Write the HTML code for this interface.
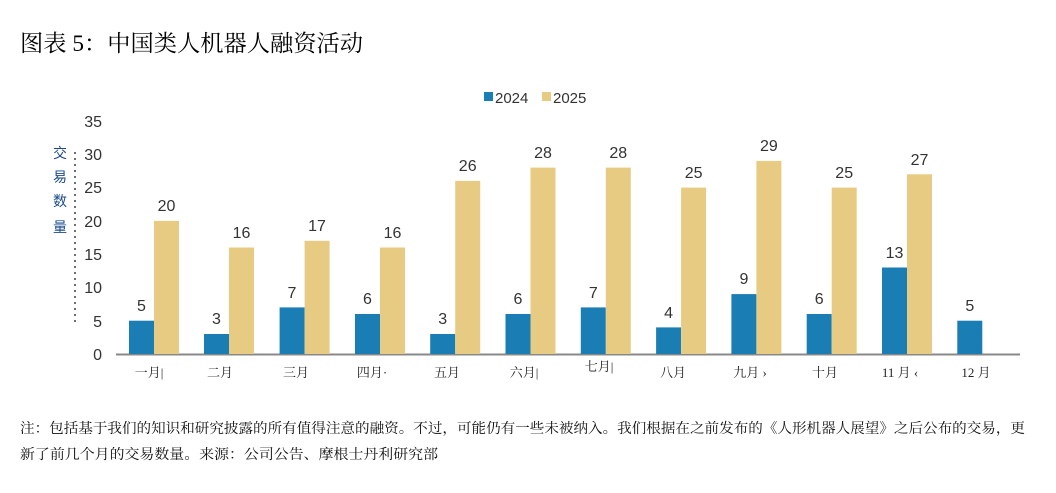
<!DOCTYPE html>
<html><head><meta charset="utf-8"><style>
body{margin:0;background:#fff;width:1056px;height:493px;overflow:hidden}
svg{display:block}
</style></head><body>
<svg width="1056" height="493" xmlns="http://www.w3.org/2000/svg">
<text x="20" y="51" font-family="'Liberation Serif','Noto Serif CJK SC',serif" font-size="23" fill="#000" textLength="343" lengthAdjust="spacingAndGlyphs">图表 5：中国类人机器人融资活动</text>
<rect x="484" y="92" width="9" height="9" fill="#1a7db3"/>
<text x="495" y="103" font-family="'Liberation Sans',sans-serif" font-size="15" fill="#333">2024</text>
<rect x="542" y="92" width="9" height="9" fill="#e8cb82"/>
<text x="553" y="103" font-family="'Liberation Sans',sans-serif" font-size="15" fill="#333">2025</text>
<g font-family="'Liberation Sans',sans-serif" font-size="16" fill="#333" text-anchor="end">
<text x="102" y="360">0</text><text x="102" y="327">5</text><text x="102" y="293">10</text><text x="102" y="260">15</text><text x="102" y="227">20</text><text x="102" y="193">25</text><text x="102" y="160">30</text><text x="102" y="127">35</text>
</g>
<g font-family="'Liberation Sans','Noto Sans CJK SC',sans-serif" font-size="14" fill="#1a4a8a" text-anchor="middle">
<text x="60" y="158">交</text><text x="60" y="182">易</text><text x="60" y="206">数</text><text x="60" y="232">量</text>
</g>
<line x1="75" y1="152" x2="75" y2="322" stroke="#222" stroke-width="1.3" stroke-dasharray="2,4"/>
<line x1="116" y1="354.5" x2="1020" y2="354.5" stroke="#888" stroke-width="2"/>
<g font-family="'Liberation Sans',sans-serif" font-size="16" fill="#333" text-anchor="middle">
<rect x="129" y="320.7" width="25" height="33.3" fill="#1a7db3"/><text x="141.5" y="311">5</text>
<rect x="154" y="220.9" width="25" height="133.1" fill="#e8cb82"/><text x="166.5" y="211">20</text>
<rect x="204" y="334" width="25" height="20" fill="#1a7db3"/><text x="216.5" y="324">3</text>
<rect x="229" y="247.5" width="25" height="106.5" fill="#e8cb82"/><text x="241.5" y="238">16</text>
<rect x="279.6" y="307.4" width="25" height="46.6" fill="#1a7db3"/><text x="292" y="298">7</text>
<rect x="304.6" y="240.8" width="25" height="113.2" fill="#e8cb82"/><text x="317" y="231">17</text>
<rect x="355" y="314" width="25" height="40" fill="#1a7db3"/><text x="367.5" y="304">6</text>
<rect x="380" y="247.5" width="25" height="106.5" fill="#e8cb82"/><text x="392.5" y="238">16</text>
<rect x="430.2" y="334" width="25" height="20" fill="#1a7db3"/><text x="442.7" y="324">3</text>
<rect x="455.2" y="180.9" width="25" height="173.1" fill="#e8cb82"/><text x="467.7" y="171">26</text>
<rect x="505.5" y="314" width="25" height="40" fill="#1a7db3"/><text x="518" y="304">6</text>
<rect x="530.5" y="167.6" width="25" height="186.4" fill="#e8cb82"/><text x="543" y="158">28</text>
<rect x="580.8" y="307.4" width="25" height="46.6" fill="#1a7db3"/><text x="593.3" y="298">7</text>
<rect x="605.8" y="167.6" width="25" height="186.4" fill="#e8cb82"/><text x="618.3" y="158">28</text>
<rect x="656.1" y="327.4" width="25" height="26.6" fill="#1a7db3"/><text x="668.6" y="318">4</text>
<rect x="681.1" y="187.6" width="25" height="166.4" fill="#e8cb82"/><text x="693.6" y="178">25</text>
<rect x="731.4" y="294.1" width="25" height="59.9" fill="#1a7db3"/><text x="743.9" y="284">9</text>
<rect x="756.4" y="160.9" width="25" height="193.1" fill="#e8cb82"/><text x="768.9" y="151">29</text>
<rect x="806.7" y="314" width="25" height="40" fill="#1a7db3"/><text x="819.2" y="304">6</text>
<rect x="831.7" y="187.6" width="25" height="166.4" fill="#e8cb82"/><text x="844.2" y="178">25</text>
<rect x="882" y="267.5" width="25" height="86.5" fill="#1a7db3"/><text x="894.5" y="258">13</text>
<rect x="907" y="174.3" width="25" height="179.7" fill="#e8cb82"/><text x="919.5" y="165">27</text>
<rect x="957.3" y="320.7" width="25" height="33.3" fill="#1a7db3"/><text x="969.8" y="311">5</text>
</g>
<g font-family="'Liberation Serif','Noto Serif CJK SC',serif" font-size="13" fill="#222" text-anchor="middle">
<text x="149" y="377">一月|</text><text x="220" y="377">二月</text><text x="296" y="377">三月</text><text x="372" y="377">四月·</text><text x="447" y="377">五月</text><text x="524" y="377">六月|</text><text x="599" y="371">七月|</text><text x="673" y="377">八月</text><text x="750" y="377">九月 ›</text><text x="825" y="377">十月</text><text x="900" y="377">11 月 ‹</text><text x="976" y="377">12 月</text>
</g>
<g font-family="'Liberation Serif','Noto Serif CJK SC',serif" font-size="14" fill="#111">
<text x="20" y="433" textLength="1005" lengthAdjust="spacingAndGlyphs">注：包括基于我们的知识和研究披露的所有值得注意的融资。不过，可能仍有一些未被纳入。我们根据在之前发布的《人形机器人展望》之后公布的交易，更</text>
<text x="20" y="459" textLength="418" lengthAdjust="spacingAndGlyphs">新了前几个月的交易数量。来源：公司公告、摩根士丹利研究部</text>
</g>
</svg>
</body></html>
